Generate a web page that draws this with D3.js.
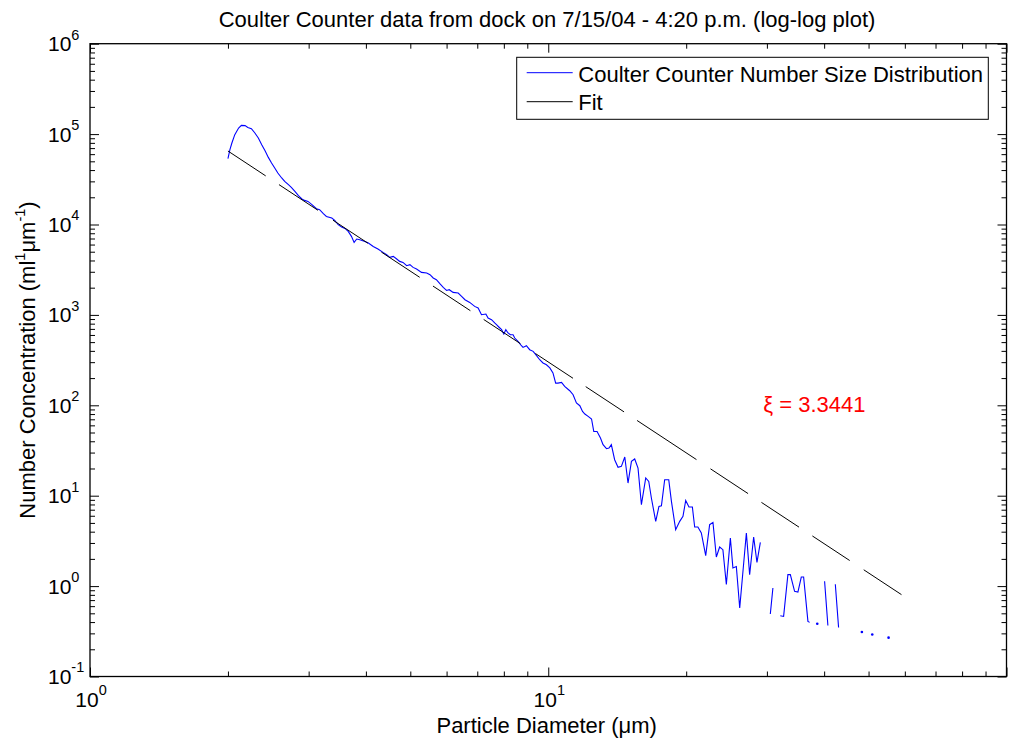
<!DOCTYPE html>
<html>
<head>
<meta charset="utf-8">
<script src="https://cdn.jsdelivr.net/npm/d3@7"></script>
<style>
  body { margin: 0; background: #fff; }
  svg { font-family: "Liberation Sans", Arial, sans-serif; }
</style>
</head>
<body>
<script>
// particle diameter (um) for each counter channel
const diameter = [
  2.00, 2.02, 2.04, 2.07, 2.11, 2.14, 2.18, 2.21, 2.25, 2.29,
  2.33, 2.37, 2.41, 2.45, 2.49, 2.53, 2.57, 2.62, 2.66, 2.71,
  2.75, 2.80, 2.85, 2.90, 2.94, 2.99, 3.05, 3.12, 3.17, 3.23,
  3.28, 3.37, 3.42, 3.48, 3.54, 3.60, 3.66, 3.72, 3.77, 3.82,
  3.88, 3.98, 4.05, 4.15, 4.25, 4.36, 4.44, 4.51, 4.59, 4.67,
  4.74, 4.82, 4.91, 4.99, 5.07, 5.16, 5.29, 5.43, 5.52, 5.61,
  5.70, 5.80, 5.90, 6.00, 6.08, 6.20, 6.36, 6.47, 6.58, 6.74,
  6.91, 7.03, 7.15, 7.31, 7.39, 7.52, 7.64, 7.71, 7.80, 7.91,
  8.00, 8.08, 8.17, 8.27, 8.38, 8.45, 8.59, 8.74, 8.81, 8.96,
  9.11, 9.27, 9.43, 9.58, 9.74, 9.91, 10.08, 10.24, 10.38, 10.50,
  10.69, 10.86, 11.14, 11.33, 11.52, 11.72, 11.88, 12.02, 12.22, 12.43,
  12.57, 12.78, 13.00, 13.17, 13.40, 13.57, 13.73, 13.96, 14.20, 14.44,
  14.69, 14.93, 15.19, 15.44, 15.70, 15.97, 16.32, 16.57, 16.79, 17.16,
  17.44, 17.66, 17.95, 18.32, 18.57, 18.97, 19.36, 19.68, 19.95, 20.28,
  20.63, 20.87, 21.21, 21.58, 22.06, 22.50, 22.88, 23.27, 23.66, 24.05,
  24.47, 24.97, 25.29, 25.73, 26.17, 27.06, 27.51, 28.07, 28.54, 29.03,
  29.8, 30.52, 30.92, 31.5, 32.09, 32.63, 33.34, 33.75, 34.48, 35.06,
  35.66, 36.08, 36.87, 37.19, 37.9, 38.64, 39.4, 40.09, 40.76, 41.5,
  42.31, 43.01, 45.5, 48.35, 49.6, 50.94, 53.0, 55.29
];

// number concentration, null = empty channel
const concentration = [
  53400, 67200, 79700, 98500, 116800, 124800, 124000, 118600, 114700, 102800,
  90600, 76300, 65500, 55250, 47900, 42200, 37130, 32700, 29990, 27560,
  25730, 23230, 20830, 19150, 18480, 18010, 16560, 14960, 14580, 13170,
  12290, 11800, 11100, 9950, 9380, 9050, 8390, 7390, 6340, 6910,
  6790, 6500, 6240, 5720, 5360, 4914, 4634, 4326, 4437, 4153,
  3907, 3808, 3501, 3592, 3353, 3219, 2952, 2907, 2784, 2560,
  2452, 2214, 2015, 1866, 1900, 1774, 1747, 1602, 1473, 1375,
  1242, 1192, 1005, 1023, 924, 885, 814, 779, 735, 686,
  615, 686, 631, 604, 604, 555, 509, 456, 437, 456,
  412, 395, 354, 319, 294, 281, 259, 228, 176, 176,
  179, 162, 145, 131, 106, 99.0, 85.6, 80.1, 75.4, 70.5,
  51.4, 51.4, 43.5, 36.7, 33.1, 33.7, 36.7, 25.0, 20.6, 21.1,
  26.8, 13.8, 24.0, 25.5, 20.2, 7.95, 15.7, 14.4, 9.43, 5.20,
  7.61, 7.75, 15.0, 15.0, 8.65, 4.21, 5.20, 5.90, 8.87, 7.50,
  7.50, 4.50, 4.50, 3.87, 2.17, 4.78, 5.07, 2.10, 2.71, 2.53,
  1.04, 3.40, 1.59, 1.65, 0.572, 3.87, 1.34, 3.49, 1.83, 3.04,
  null, 0.491, 0.953, null, 0.470, 0.462, 1.34, 1.34, 0.874, 0.860,
  1.26, 1.26, 0.407, 0.397, null, 0.384, null, 1.13, 0.367, null,
  1.05, 0.349, null, 0.311, null, 0.292, null, 0.269
];

// power law fit end points
const fitDiameter = [2, 59.1];
const fitConcentration = [65000, 0.80];
const xi = 3.3441;

const xTickLabels = [1, 10];
const yTickLabels = [0.1, 1, 10, 100, 1e3, 1e4, 1e5, 1e6];

const width = 1013, height = 741;
const plotLeft = 90, plotRight = 1006.5, plotTop = 43.7, plotBottom = 676.5;

const x = d3.scaleLog().domain([1, 100]).range([plotLeft, plotRight]);
const y = d3.scaleLog().domain([0.1, 1e6]).range([plotBottom, plotTop]);

const svg = d3.select("body").append("svg")
    .attr("width", width)
    .attr("height", height);

svg.append("rect")
    .attr("width", width)
    .attr("height", height)
    .attr("fill", "#fff");

// ticks on all four sides, pointing inward
const isDecade = v => Math.abs(Math.log10(v) - Math.round(Math.log10(v))) < 1e-9;
const xMajor = x.ticks().filter(isDecade), xMinor = x.ticks().filter(v => !isDecade(v));
const yMajor = y.ticks().filter(isDecade), yMinor = y.ticks().filter(v => !isDecade(v));

const tickSets = [
  [d3.axisBottom, x, `translate(0,${plotBottom})`],
  [d3.axisTop, x, `translate(0,${plotTop})`],
  [d3.axisLeft, y, `translate(${plotLeft},0)`],
  [d3.axisRight, y, `translate(${plotRight},0)`]
];
tickSets.forEach(function(t) {
  const major = t[1] === x ? xMajor : yMajor;
  const minor = t[1] === x ? xMinor : yMinor;
  [[major, 9], [minor, 5]].forEach(function(m) {
    const g = svg.append("g")
        .attr("transform", t[2])
        .call(t[0](t[1]).tickValues(m[0]).tickSize(-m[1]).tickFormat(""));
    g.select(".domain").remove();
    g.selectAll("line").attr("stroke", "#000").attr("stroke-width", 1);
  });
});

svg.append("rect")
    .attr("x", plotLeft)
    .attr("y", plotTop)
    .attr("width", plotRight - plotLeft)
    .attr("height", plotBottom - plotTop)
    .attr("fill", "none")
    .attr("stroke", "#000")
    .attr("stroke-width", 1.3);

// tick labels 10^n
svg.selectAll(".ylab")
  .data(yTickLabels)
  .join("text")
    .attr("class", "ylab")
    .attr("x", 48)
    .attr("y", d => y(d) + 7.5)
    .attr("font-size", 21)
    .each(function(d) {
      const t = d3.select(this);
      t.append("tspan").text("10");
      t.append("tspan").attr("font-size", 14.5).attr("dy", -11.6)
        .text(Math.round(Math.log10(d)));
    });

svg.selectAll(".xlab")
  .data(xTickLabels)
  .join("text")
    .attr("class", "xlab")
    .attr("x", d => x(d) + 1)
    .attr("y", 706.7)
    .attr("text-anchor", "middle")
    .attr("font-size", 21)
    .each(function(d) {
      const t = d3.select(this);
      t.append("tspan").text("10");
      t.append("tspan").attr("font-size", 14.5).attr("dy", -11.6)
        .text(Math.round(Math.log10(d)));
    });

// data
const points = diameter.map((d, i) => [d, concentration[i]]);

const line = d3.line()
    .defined(d => d[1] != null)
    .x(d => x(d[0]))
    .y(d => y(d[1]));

svg.append("path")
    .datum(points)
    .attr("fill", "none")
    .attr("stroke", "#0000ff")
    .attr("stroke-width", 1.1)
    .attr("d", line);

// single channels between empty ones show up as dots
const lonely = points.filter((p, i) => p[1] != null &&
    (i == 0 || points[i - 1][1] == null) &&
    (i == points.length - 1 || points[i + 1][1] == null));

svg.selectAll(".dot")
  .data(lonely)
  .join("circle")
    .attr("class", "dot")
    .attr("cx", d => x(d[0]))
    .attr("cy", d => y(d[1]))
    .attr("r", 1.3)
    .attr("fill", "#0000ff");

// fit, dashed like the original
svg.append("path")
    .datum(fitDiameter.map((d, i) => [d, fitConcentration[i]]))
    .attr("fill", "none")
    .attr("stroke", "#000")
    .attr("stroke-width", 1)
    .attr("stroke-dasharray", "45.2 15.9 46.7 18 41.9 16 45.9 15.9 44.8 15.9 44 18 45 15.2 45.9 15.6 71.1 16.8 45 16 45 16 44.7 16.8 45.2 200")
    .attr("d", line);

svg.append("text")
    .attr("x", 763.3)
    .attr("y", 411.7)
    .attr("fill", "#ff0000")
    .attr("font-size", 22)
    .text("ξ = " + xi);

// legend
svg.append("rect")
    .attr("x", 516.7)
    .attr("y", 57.3)
    .attr("width", 471.6)
    .attr("height", 62)
    .attr("fill", "#fff")
    .attr("stroke", "#000")
    .attr("stroke-width", 1);

const legend = [["Coulter Counter Number Size Distribution", "#0000ff"], ["Fit", "#000"]];
legend.forEach(function(l, i) {
  svg.append("line")
      .attr("x1", 526.7).attr("x2", 572.7)
      .attr("y1", 72.7 + i * 29).attr("y2", 72.7 + i * 29)
      .attr("stroke", l[1]);
  svg.append("text")
      .attr("x", 578.3)
      .attr("y", 81.7 + i * 28.5)
      .attr("font-size", 22)
      .text(l[0]);
});

// titles
svg.append("text")
    .attr("x", 547)
    .attr("y", 27.3)
    .attr("text-anchor", "middle")
    .attr("font-size", 22)
    .text("Coulter Counter data from dock on 7/15/04 - 4:20 p.m. (log-log plot)");

svg.append("text")
    .attr("x", 546.7)
    .attr("y", 732.7)
    .attr("text-anchor", "middle")
    .attr("font-size", 22)
    .text("Particle Diameter (μm)");

const ylabel = svg.append("text")
    .attr("transform", "translate(35,360) rotate(-90)")
    .attr("text-anchor", "middle")
    .attr("font-size", 22);
ylabel.append("tspan").text("Number Concentration (ml");
ylabel.append("tspan").attr("font-size", 14.5).attr("dy", -10).text("1");
ylabel.append("tspan").attr("dy", 10).text("μm");
ylabel.append("tspan").attr("font-size", 14.5).attr("dy", -10).text("-1");
ylabel.append("tspan").attr("dy", 10).text(")");
</script>
</body>
</html>
